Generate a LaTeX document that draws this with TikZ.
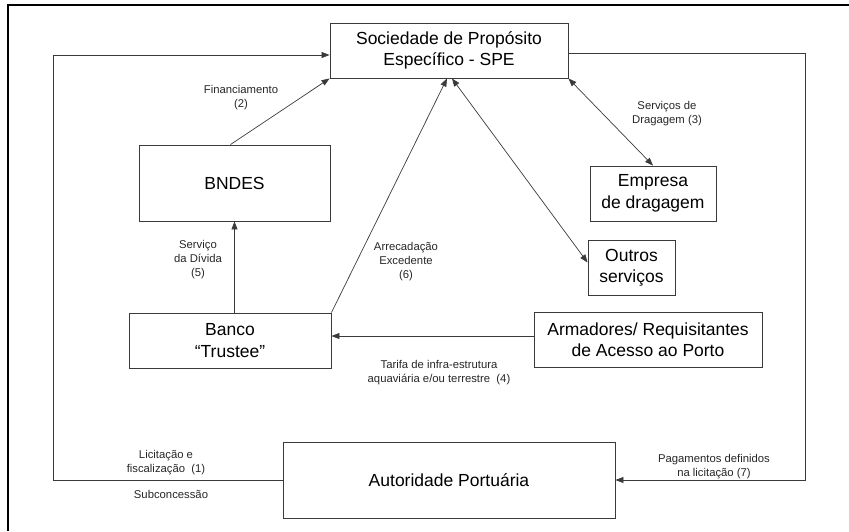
\documentclass[tikz,border=0pt]{standalone}
\usepackage{fontspec}
\setmainfont{Liberation Sans}
\usepackage{xcolor}
\usepackage{tikz}
\usetikzlibrary{arrows.meta,positioning,calc}
\definecolor{lineg}{HTML}{3A3A3A}

\begin{document}
\begin{tikzpicture}[
    x=1pt, y=-1pt,
    box/.style={rectangle, draw=lineg, line width=0.9pt, align=center, inner sep=2pt, font=\fontsize{17.5}{21.5}\selectfont},
    tag/.style={align=center, inner sep=0pt, font=\fontsize{11.3}{14}\selectfont, text=black!85},
    arrow/.style={-{Triangle[length=8pt,width=6pt]}, line width=0.7pt, lineg},
    both/.style={{Triangle[length=8pt,width=6pt]}-{Triangle[length=8pt,width=6pt]}, line width=0.7pt, lineg}
]
    \useasboundingbox (0,0) rectangle (849,531);
    \draw[line width=2.2pt] (8,531) -- (8,5) -- (849,5);

    \node[box, minimum width=238pt, minimum height=55pt] (spe)        at (449,50.5)  {Sociedade de Propósito\\Específico - SPE};
    \node[box, minimum width=191pt, minimum height=76pt] (bndes)      at (234.5,183) {BNDES};
    \node[box, minimum width=126pt, minimum height=55pt] (dragagem)   at (653,193.5) {Empresa\\de dragagem};
    \node[box, minimum width=87pt,  minimum height=55pt] (outros)     at (631.5,267.5) {Outros\\serviços};
    \node[box, minimum width=202pt, minimum height=55pt] (trustee)    at (230,340.5) {Banco\\“Trustee”};
    \node[box, minimum width=228pt, minimum height=55pt] (armadores)  at (648,339.5) {Armadores/ Requisitantes\\de Acesso ao Porto};
    \node[box, minimum width=332pt, minimum height=76pt] (autoridade) at (449,480)   {Autoridade Portuária};

    \coordinate (loopL) at (53,55);
    \coordinate (loopR) at (805,53);

    \draw[arrow] (autoridade.west) -| (loopL) -- (loopL -| spe.west);
    \draw[arrow] (loopR -| spe.east) -- (loopR) |- (autoridade.east);
    \draw[arrow] ([xshift=-4pt]bndes.north) -- (spe.south west);
    \draw[arrow] (bndes.south |- trustee.north) -- (bndes.south);
    \draw[arrow] (trustee.north east) -- ([xshift=-2pt]spe.south);
    \draw[both] ([xshift=3pt]spe.south) -- ([yshift=5pt]outros.west);
    \draw[both] (spe.south east) -- (dragagem.north);
    \draw[arrow] ([yshift=3.5pt]armadores.west) -- ([yshift=3.5pt]armadores.west -| trustee.east);

    \node[tag] (fin)     at (241,98)  {Financiamento\\(2)};
    \node[tag] (servdiv) at (198,260) {Serviço\\da Dívida\\(5)};
    \node[tag] (arrec)   at (406,262) {Arrecadação\\Excedente\\(6)};
    \node[tag] (servdrg) at (667,114) {Serviços de\\Dragagem (3)};
    \node[tag] (tarifa)  at (439,373) {Tarifa de infra-estrutura\\aquaviária e/ou terrestre~~(4)};
    \node[tag] (licit)   at (166,463) {Licitação e\\fiscalização~~(1)};
    \node[tag] (subc)    at (171,494) {Subconcessão};
    \node[tag] (pagam)   at (714,467) {Pagamentos definidos\\na licitação (7)};
\end{tikzpicture}
\end{document}
